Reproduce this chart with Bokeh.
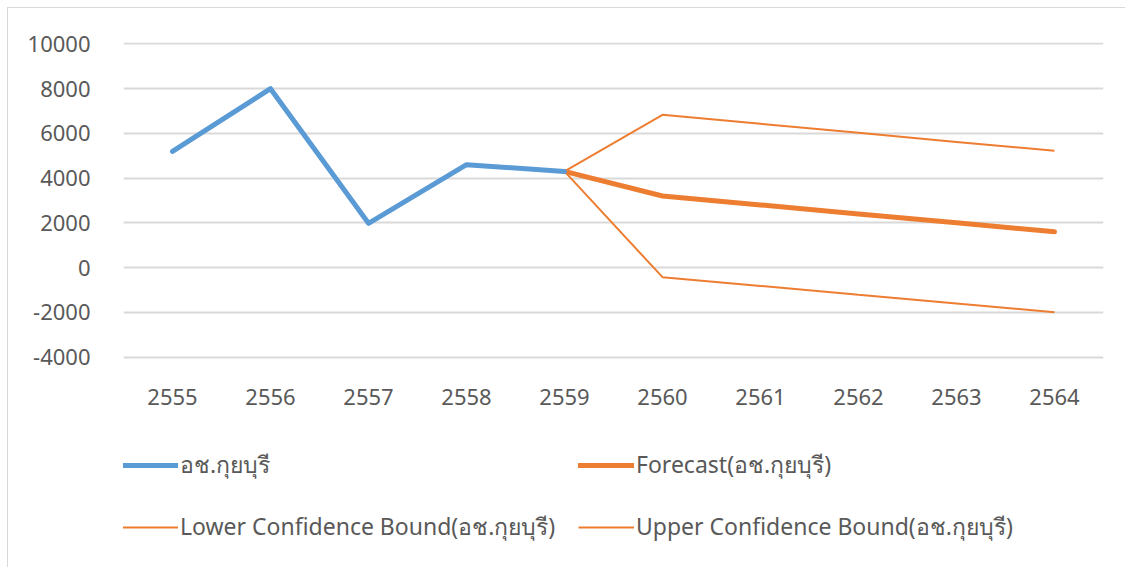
from bokeh.plotting import figure
from bokeh.models import Range1d, FixedTicker, Legend, LegendItem, FactorRange, PrintfTickFormatter, Spacer
from bokeh.layouts import column, row
from bokeh.embed import file_html
from bokeh.resources import INLINE

years = ["2555", "2556", "2557", "2558", "2559", "2560", "2561", "2562", "2563", "2564"]
actual_years = ["2555", "2556", "2557", "2558", "2559"]
actual = [5200, 8000, 1980, 4600, 4300]
fc_years = ["2559", "2560", "2561", "2562", "2563", "2564"]
forecast = [4300, 3200, 2800, 2400, 2000, 1600]
lower = [4300, -430, -820, -1220, -1610, -2000]
upper = [4300, 6830, 6430, 6030, 5620, 5220]
y_ticks = [-4000, -2000, 0, 2000, 4000, 6000, 8000, 10000]

series_name = "อช.กุยบุรี"
labels = [series_name, "Forecast(" + series_name + ")",
          "Lower Confidence Bound(" + series_name + ")",
          "Upper Confidence Bound(" + series_name + ")"]

BLUE = "#5B9BD5"
ORANGE = "#ED7D31"
TXT = "#595959"
FONT = "Noto Sans"

# frame spans down to the canvas bottom; data area is -4000..10000 at the top
p = figure(width=1118, height=560, x_range=FactorRange(*years),
           y_range=Range1d(-13460, 10067), output_backend="svg",
           toolbar_location=None, min_border_left=115, min_border_top=34,
           min_border_right=23, min_border_bottom=0)
p.styles = {"border-left": "1px solid #d9d9d9", "border-top": "1px solid #d9d9d9"}
p.outline_line_color = None
p.background_fill_color = "white"

p.xgrid.grid_line_color = None
p.ygrid.grid_line_color = "#d9d9d9"
p.ygrid.grid_line_width = 2
p.yaxis.ticker = FixedTicker(ticks=y_ticks)
p.yaxis.formatter = PrintfTickFormatter(format="%d")
p.xaxis.fixed_location = -4000

for ax in (p.xaxis, p.yaxis):
    ax.axis_line_color = None
    ax.major_tick_line_color = None
    ax.minor_tick_line_color = None
    ax.major_label_text_font = FONT
    ax.major_label_text_font_size = "22px"
    ax.major_label_text_color = TXT
p.yaxis.major_label_standoff = 27
p.xaxis.major_label_standoff = 26

r_up = p.line(fc_years, upper, line_color=ORANGE, line_width=2)
r_lo = p.line(fc_years, lower, line_color=ORANGE, line_width=2)
r_fc = p.line(fc_years, forecast, line_color=ORANGE, line_width=5,
              line_cap="round", line_join="round")
r_act = p.line(actual_years, actual, line_color=BLUE, line_width=5,
               line_cap="round", line_join="round")

renderers = [r_act, r_fc, r_lo, r_up]
positions = [(-1, 85), (455, 85), (-1, 23), (455, 23)]
for lab, r, loc in zip(labels, renderers, positions):
    lg = Legend(items=[LegendItem(label=lab, renderers=[r])], location=loc,
                margin=0, padding=0, border_line_color=None,
                background_fill_alpha=0, glyph_width=56, glyph_height=30,
                label_height=30, label_standoff=2, label_text_font=FONT,
                label_text_font_size="23px", label_text_color=TXT)
    p.add_layout(lg, "center")

layout = column(Spacer(height=7), row(Spacer(width=7), p))
open("out.html", "w").write(file_html(layout, INLINE))
